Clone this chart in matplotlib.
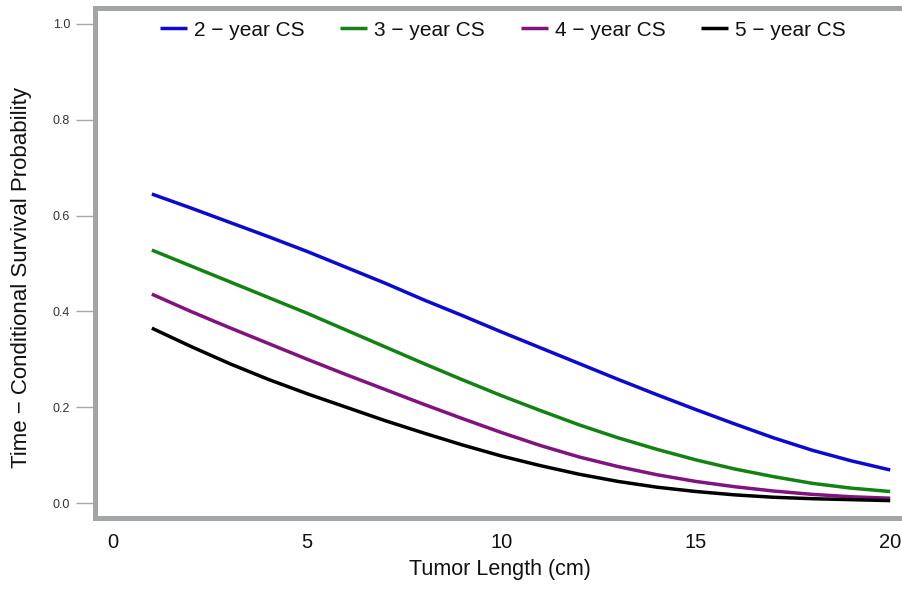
import matplotlib
matplotlib.use("Agg")
import matplotlib.pyplot as plt

plt.rcParams["font.family"] = ["Liberation Sans", "DejaVu Sans"]

# Tumor length (cm)
tumor_length = list(range(1, 21))

# Time-conditional survival probability by tumor length
cs_2yr = [0.645, 0.616, 0.586, 0.556, 0.525, 0.492, 0.459, 0.424, 0.391, 0.357,
          0.324, 0.291, 0.258, 0.226, 0.195, 0.165, 0.136, 0.110, 0.088, 0.069]
cs_3yr = [0.528, 0.495, 0.462, 0.429, 0.396, 0.361, 0.326, 0.291, 0.257, 0.224,
          0.193, 0.163, 0.136, 0.112, 0.090, 0.071, 0.055, 0.041, 0.031, 0.024]
cs_4yr = [0.436, 0.400, 0.366, 0.333, 0.300, 0.268, 0.237, 0.206, 0.176, 0.147,
          0.120, 0.096, 0.076, 0.059, 0.045, 0.034, 0.025, 0.018, 0.013, 0.010]
cs_5yr = [0.365, 0.327, 0.291, 0.258, 0.228, 0.200, 0.172, 0.146, 0.121, 0.098,
          0.078, 0.060, 0.045, 0.033, 0.024, 0.017, 0.012, 0.009, 0.007, 0.005]

series_labels = ["2 \u2212 year CS", "3 \u2212 year CS", "4 \u2212 year CS", "5 \u2212 year CS"]
series_colors = ["#0a0ad2", "#128212", "#82127f", "#000000"]

x_ticks = [0, 5, 10, 15, 20]
y_ticks = [0.0, 0.2, 0.4, 0.6, 0.8, 1.0]

W, H = 903, 597
fig = plt.figure(figsize=(W / 100, H / 100), dpi=100)
fig.patch.set_facecolor("white")

# axes box in pixel units (right side runs past the canvas edge)
left_px, right_px, top_px, bottom_px = 94.5, 910.0, 7.5, 518.0
ax = fig.add_axes([left_px / W, 1 - bottom_px / H,
                   (right_px - left_px) / W, (bottom_px - top_px) / H])

for vals, lab, col in zip([cs_2yr, cs_3yr, cs_4yr, cs_5yr], series_labels, series_colors):
    ax.plot(tumor_length, vals, color=col, lw=2.5, label=lab,
            solid_capstyle="butt", solid_joinstyle="round")

ax.set_xlim(-0.476, 20.51)
ax.set_ylim(-0.0313, 1.0344)

spine_col = "#a2a5a8"
for side in ["left", "top", "bottom", "right"]:
    ax.spines[side].set_color(spine_col)
    ax.spines[side].set_linewidth(3.6)

ax.set_xticks(x_ticks)
ax.set_xticklabels([str(v) for v in x_ticks])
ax.set_yticks(y_ticks)
ax.set_yticklabels([f"{v:.1f}" for v in y_ticks])

ax.tick_params(axis="x", length=0, pad=11, labelsize=14.5, labelcolor="#111111")
ax.tick_params(axis="y", direction="out", length=14, width=1.0, color="#a8a8a8",
               pad=3.6, labelsize=9, labelcolor="#333333")

ax.set_xlabel("Tumor Length (cm)", fontsize=15.5, color="#111111")
ax.xaxis.set_label_coords((500 - left_px) / (right_px - left_px),
                          -(569 - bottom_px) / (bottom_px - top_px))
ax.xaxis.label.set_va("center")

ax.set_ylabel("Time \u2212 Conditional Survival Probability", fontsize=16, color="#111111")
ax.yaxis.set_label_coords(-(left_px - 21) / (right_px - left_px),
                          (bottom_px - 278) / (bottom_px - top_px))
ax.yaxis.label.set_va("center")

leg = ax.legend(loc="center left", bbox_to_anchor=(160 / W, 1 - 30 / H),
                bbox_transform=fig.transFigure, ncol=4, frameon=False,
                fontsize=15, handlelength=1.3, handletextpad=0.34,
                columnspacing=1.7, borderpad=0, borderaxespad=0)
for t in leg.get_texts():
    t.set_color("#111111")
for h in leg.get_lines():
    h.set_linewidth(2.5)

fig.savefig("out.png", dpi=100, facecolor="white")
